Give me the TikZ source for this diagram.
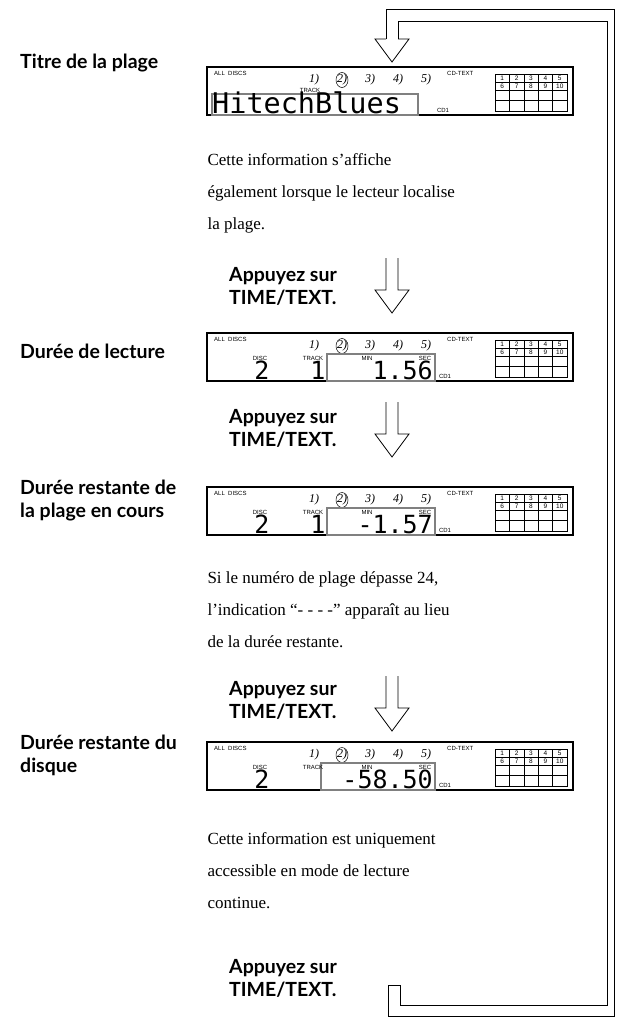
\documentclass[tikz,border=0pt]{standalone}
\usepackage{fontspec}
\setmainfont{Liberation Serif}
\newfontfamily\labf{Lato}
\newfontfamily\smallf{Liberation Sans}
\newfontfamily\lcdf{DejaVu Sans Mono}
\tikzset{
 lab/.style={font=\labf\bfseries\fontsize{19.5}{23}\selectfont, anchor=west, align=left, inner sep=0pt},
 para/.style={font=\fontsize{17}{32}\selectfont, anchor=north west, align=left},
 tiny/.style={font=\smallf\fontsize{6}{6}\selectfont, inner sep=0pt},
 disc/.style={font=\itshape\fontsize{12}{12}\selectfont, inner sep=0pt},
 big/.style={font=\lcdf\fontsize{25}{25}\selectfont, inner sep=0pt, anchor=base},
 gray/.style={draw=black!50, line width=1.5pt},
 hollow/.style={draw, line width=0.8pt, fill=white}
}
\newcommand\lcdframe[1]{%
 \begin{scope}[shift={(207,#1)}]
  \draw[line width=1.4pt] (0,0) rectangle (366,48);
  \node[tiny,anchor=north west] at (7,4) {ALL\ \ DISCS};
  \node[tiny,anchor=north west] at (240,4) {CD-TEXT};
  \foreach \n/\x in {1/107,2/135,3/163,4/191,5/219}{
    \node[disc] at (\x,13) {\n)};
  }
  \draw[line width=0.5pt] (135,13) ellipse (6 and 7.5);
  \draw[line width=0.8pt] (288,7) rectangle (360,44);
  \foreach \x in {302.4,316.8,331.2,345.6} \draw[line width=0.6pt] (\x,7) -- (\x,44);
  \foreach \y in {15,23,33.5} \draw[line width=0.6pt] (288,\y) -- (360,\y);
  \foreach \n [count=\i] in {1,...,5}{
    \node[tiny,font=\smallf\fontsize{6.5}{6}\selectfont] at (288+14.4*\i-7.2,11) {\n};
    \node[tiny,font=\smallf\fontsize{6.5}{6}\selectfont] at (288+14.4*\i-7.2,19) {\the\numexpr\n+5\relax};
  }
 \end{scope}}
\begin{document}
\begin{tikzpicture}[x=1pt,y=-1pt]
\useasboundingbox (0,0) rectangle (620,1023);
% loop arrow
\draw[line width=0.8pt] (386,40) -- (386,9) -- (614,9) -- (614,1016) -- (388,1016) -- (388,985) -- (400,985) -- (400,1005) -- (607,1005) -- (607,21) -- (398,21) -- (398,40);
\draw[hollow] (386,39) -- (375,39) -- (392,62) -- (409,39) -- (398,39);
% labels
\node[lab] (l1) at (20,63) {Titre de la plage};
\node[lab] (l2) at (20,351) {Durée de lecture};
\node[lab] (l3) at (20,501) {Durée restante de\\la plage en cours};
\node[lab] (l4) at (20,755) {Durée restante du\\disque};
% displays
\lcdframe{67}
\begin{scope}[shift={(207,67)}]
 \draw[gray] (5,27) rectangle (211,48);
 \node[tiny] at (103,23) {TRACK};
 \node[big,anchor=base west,font=\lcdf\fontsize{28.5}{28}\selectfont] at (5,46.5) {HitechBlues};
 \node[tiny] at (236,43) {CD1};
\end{scope}
\lcdframe{333}
\begin{scope}[shift={(207,333)}]
 \draw[gray] (120,21) rectangle (228,48);
 \node[tiny] at (53,25) {DISC}; \node[tiny] at (106,25) {TRACK};
 \node[tiny] at (160,25) {MIN}; \node[tiny] at (218,25) {SEC};
 \node[big] at (55,46) {2}; \node[big] at (111,46) {1};
 \node[big,anchor=base east] at (226,46) {1.56};
 \node[tiny] at (238,43) {CD1};
\end{scope}
\lcdframe{487}
\begin{scope}[shift={(207,487)}]
 \draw[gray] (120,21) rectangle (228,48);
 \node[tiny] at (53,25) {DISC}; \node[tiny] at (106,25) {TRACK};
 \node[tiny] at (160,25) {MIN}; \node[tiny] at (218,25) {SEC};
 \node[big] at (55,46) {2}; \node[big] at (111,46) {1};
 \node[big,anchor=base east] at (226,46) {-1.57};
 \node[tiny] at (238,43) {CD1};
\end{scope}
\lcdframe{742}
\begin{scope}[shift={(207,742)}]
 \draw[gray] (114,21) rectangle (228,48);
 \node[tiny] at (53,25) {DISC}; \node[tiny] at (106,25) {TRACK};
 \node[tiny] at (160,25) {MIN}; \node[tiny] at (218,25) {SEC};
 \node[big] at (55,46) {2};
 \node[big,anchor=base east] at (226,46) {-58.50};
 \node[tiny] at (238,43) {CD1};
\end{scope}
% paragraphs
\node[para] (p1) at (204,150) {Cette information s’affiche\\également lorsque le lecteur localise\\la plage.};
\node[para] (p2) at (204,568) {Si le numéro de plage dépasse 24,\\l’indication “- - - -” apparaît au lieu\\de la durée restante.};
\node[para] (p3) at (204,829) {Cette information est uniquement\\accessible en mode de lecture\\continue.};
% appuyez
\foreach \y/\n in {286/a1,428/a2,700/a3,978/a4}{
  \node[lab] (\n) at (229,\y) {Appuyez sur\\TIME/TEXT.};
}
\foreach \y in {258,402,676}{
  \draw[hollow] (386,\y) -- (386,\y+32) -- (375,\y+32) -- (392,\y+55) -- (409,\y+32) -- (398,\y+32) -- (398,\y);
}
\end{tikzpicture}
\end{document}
